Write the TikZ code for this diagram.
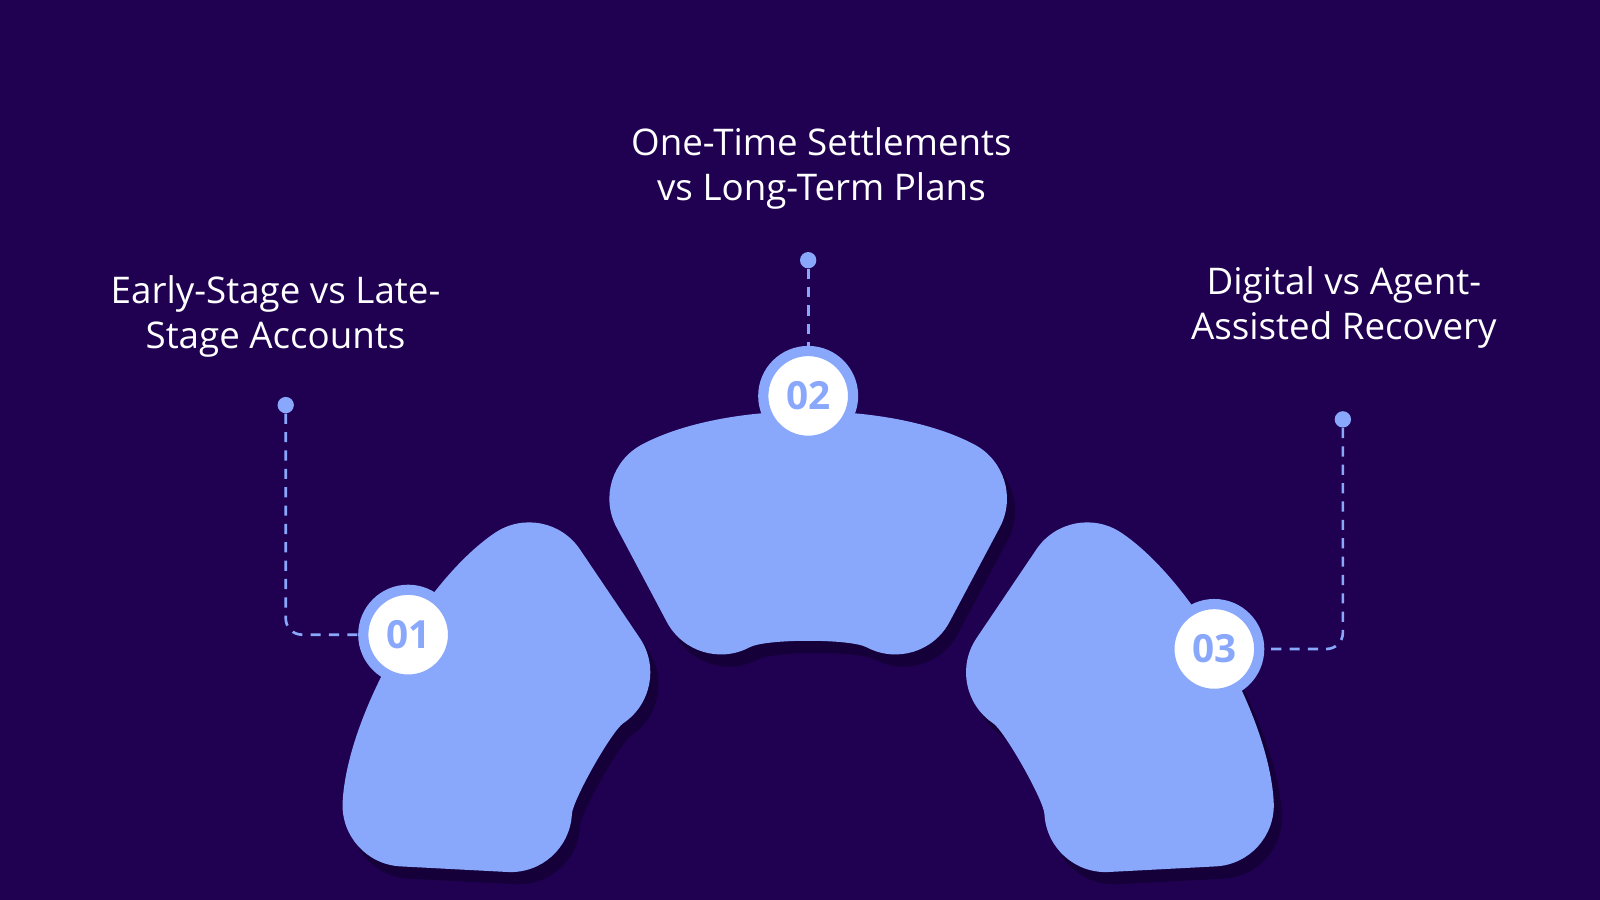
\documentclass[tikz,border=0pt]{standalone}
\usepackage{fontspec}
\setmainfont{Open Sans}
\usetikzlibrary{calc}
\definecolor{bg}{HTML}{200050}
\definecolor{seg}{HTML}{8AA8FB}
\definecolor{shd}{HTML}{16003A}
\begin{document}
\begin{tikzpicture}[x=0.5pt,y=0.5pt,
  title/.style={text=white,align=center,font=\fontsize{18}{22}\selectfont},
  badge/.style={circle,fill=white,draw=seg,line width=5pt,minimum size=44pt,inner sep=0pt,text=seg,font=\fontsize{19}{19}\selectfont\bfseries},
  dot/.style={circle,fill=seg,minimum size=8pt,inner sep=0pt},
  lead/.style={seg,dashed,line width=1.3pt,dash pattern=on 5pt off 4pt,rounded corners=8pt}]
\fill[bg] (0,0) rectangle (1568,882);
\useasboundingbox (0,0) rectangle (1568,882);
\coordinate (C) at (792,12);
\foreach \a/\b in {124/177,62/118,3/56}{
  \fill[shd,rounded corners=30pt] ($(C)+(\a:460)+(8,-12)$) arc(\a:\b:460) -- ($(C)+(\b:235)+(8,-12)$) arc(\b:\a:235) -- cycle;
  \fill[seg,rounded corners=30pt] ($(C)+(\a:460)$) arc(\a:\b:460) -- ($(C)+(\b:235)$) arc(\b:\a:235) -- cycle;
}
\node[dot] (d1) at (280,485) {};
\node[dot] (d2) at (792,627) {};
\node[dot] (d3) at (1316,471) {};
\node[badge] (b1) at (400,260) {01};
\node[badge] (b2) at (792,494) {02};
\node[badge] (b3) at (1190,246) {03};
\draw[lead] (d1) |- (b1.west);
\draw[lead] (d2) -- (b2.north);
\draw[lead] (d3) |- (b3.east);
\node[title] (t1) at (270,572) {Early-Stage vs Late-\\Stage Accounts};
\node[title] (t2) at (805,717) {One-Time Settlements\\vs Long-Term Plans};
\node[title] (t3) at (1317,581) {Digital vs Agent-\\Assisted Recovery};
\end{tikzpicture}
\end{document}
